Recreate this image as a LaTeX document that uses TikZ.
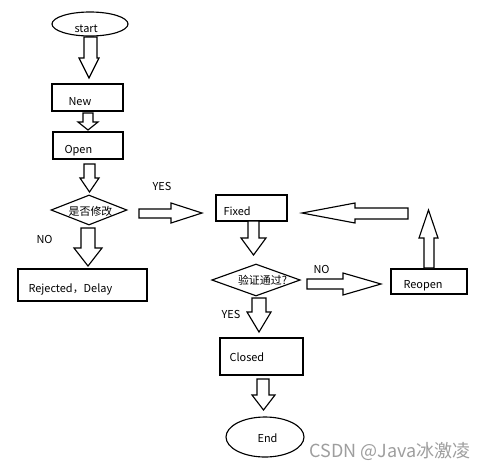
\documentclass[tikz,border=0pt]{standalone}
\usepackage{fontspec}
\setmainfont{Noto Sans CJK SC}
\usetikzlibrary{shapes.geometric}
\newcommand\vArrow[7]{%
  \draw[blk] (#1,#3) -- (#2,#3) -- (#2,#4) -- (#6,#4) -- ({(#5+#6)/2},#7) -- (#5,#4) -- (#1,#4) -- cycle;}
\newcommand\hArrow[7]{%
  \draw[blk] (#3,#1) -- (#3,#2) -- (#4,#2) -- (#4,#6) -- (#7,{(#5+#6)/2}) -- (#4,#5) -- (#4,#1) -- cycle;}
\begin{document}
\begin{tikzpicture}[x=0.75pt,y=-0.75pt,
  line width=0.85pt,
  blk/.style={draw=black,fill=white,line join=miter},
  box/.style={draw,rectangle,inner sep=0pt},
  oval/.style={draw,ellipse,inner sep=0pt},
  dia/.style={draw,diamond,inner sep=0pt},
  lbl/.style={inner sep=0pt,anchor=base west,font=\fontsize{8.2}{9}\selectfont},
  wm/.style={inner sep=0pt,anchor=base west,text=black!38,font=\fontsize{13.5}{15}\selectfont}]
\useasboundingbox[fill=white] (0,0) rectangle (488,469);
% shapes
\node[oval,minimum width=57pt,minimum height=18pt] (start) at (90,24) {};
\node[box,minimum width=53.25pt,minimum height=20.25pt] (new) at (87.5,97.5) {};
\node[box,minimum width=52.5pt,minimum height=20.25pt] (open) at (88,145.5) {};
\node[dia,minimum width=57pt,minimum height=22.5pt] (d1) at (89,210) {};
\node[box,minimum width=96.75pt,minimum height=24pt] (rej) at (82.5,285) {};
\node[box,minimum width=53.25pt,minimum height=19.5pt] (fixed) at (251.5,208) {};
\node[dia,minimum width=66.4pt,minimum height=24pt] (d2) at (256,280) {};
\node[box,minimum width=57pt,minimum height=18.75pt] (reopen) at (429,281.5) {};
\node[box,minimum width=62.25pt,minimum height=27.75pt] (closed) at (261.5,356.5) {};
\node[oval,minimum width=58.5pt,minimum height=30pt] (end) at (265,437) {};
% texts
\node[lbl] (tstart) at (74,32) {start};
\node[lbl] (tnew) at (68,105) {New};
\node[lbl] (topen) at (64,153) {Open};
\node[inner sep=0pt,font=\fontsize{8.2}{9}\selectfont] (td1) at (90.5,211) {是否修改};
\node[lbl] (tno1) at (36,243) {NO};
\node[lbl] (trej) at (28,292) {Rejected，Delay};
\node[lbl] (tyes1) at (152,190) {YES};
\node[lbl] (tfixed) at (223,215) {Fixed};
\node[inner sep=0pt,font=\fontsize{8.2}{9}\selectfont] (td2) at (262.5,280) {验证通过?};
\node[lbl] (tno2) at (313,273) {NO};
\node[lbl] (treopen) at (403,288) {Reopen};
\node[lbl] (tyes2) at (221,318) {YES};
\node[lbl] (tclosed) at (229,361) {Closed};
\node[lbl] (tend) at (257,442) {End};
\node[wm] (wmark) at (309,457) {CSDN @Java冰激凌};
% block arrows
\vArrow{84}{97}{37}{58}{79}{99}{78}
\vArrow{83}{93}{113}{122}{78}{98}{130}
\vArrow{84}{95}{164}{178}{80}{99}{192}
\vArrow{81}{95}{228}{248}{74}{102}{266}
\vArrow{248}{259}{221}{238}{241}{266}{255}
\vArrow{252}{266}{298}{312}{247}{271}{332}
\vArrow{257}{269}{379}{395}{252}{275}{410}
\vArrow{424}{434}{268}{238}{419}{438}{210}
\hArrow{209}{218}{139}{171}{203}{223}{202}
\hArrow{208}{219}{408}{355}{203}{223}{302}
\hArrow{279}{289}{307}{343}{273}{295}{381}
\end{tikzpicture}
\end{document}
